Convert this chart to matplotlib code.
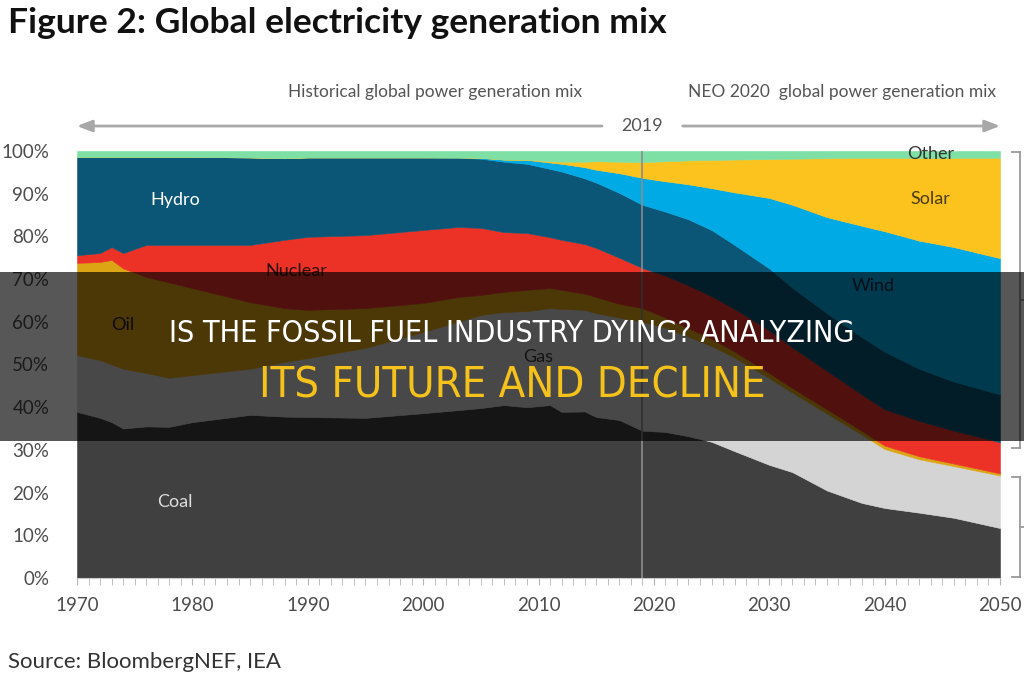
import matplotlib
matplotlib.use("Agg")
import matplotlib.pyplot as plt
from matplotlib import font_manager
from matplotlib.patches import Rectangle
from matplotlib.lines import Line2D
from matplotlib.ticker import MultipleLocator

# share of global power generation, %
years = [1970, 1972, 1973, 1974, 1976, 1978, 1980, 1985, 1988, 1990, 1995, 2000,
         2003, 2005, 2007, 2009, 2011, 2012, 2014, 2015, 2017, 2019, 2021, 2023,
         2025, 2027, 2030, 2032, 2035, 2038, 2040, 2043, 2046, 2050]
coal = [38.9, 37.5, 36.5, 35.0, 35.5, 35.4, 36.5, 38.2, 37.8, 37.7, 37.5, 38.6,
        39.3, 39.8, 40.5, 40.0, 40.5, 38.9, 39.0, 37.7, 37.0, 34.5, 34.2, 33.2,
        31.9, 29.7, 26.5, 24.8, 20.5, 17.6, 16.4, 15.3, 14.1, 11.7]
gas = [13.3, 13.5, 13.5, 14.0, 12.5, 11.5, 11.0, 10.8, 12.8, 13.8, 16.4, 19.0,
       20.7, 21.8, 21.8, 22.5, 22.7, 24.1, 23.8, 24.3, 24.0, 25.5, 24.4, 23.3,
       22.4, 21.9, 20.3, 18.6, 18.0, 16.0, 13.8, 12.5, 12.1, 12.3]
oil = [21.6, 23.0, 24.5, 23.5, 22.5, 22.3, 20.4, 15.6, 12.6, 11.3, 9.3, 6.8,
       5.8, 4.7, 4.7, 5.0, 4.7, 4.5, 3.8, 3.8, 3.2, 3.2, 2.4, 2.0,
       1.7, 1.4, 1.2, 1.1, 1.0, 0.9, 0.8, 0.7, 0.6, 0.5]
nuclear = [1.8, 2.1, 3.0, 3.6, 7.5, 8.8, 10.1, 13.4, 16.0, 17.1, 17.1, 17.1,
           16.4, 15.7, 14.0, 13.3, 11.9, 11.7, 11.6, 11.5, 10.8, 9.4, 9.8, 10.0,
           10.0, 10.0, 10.0, 9.5, 9.0, 8.5, 8.5, 8.3, 7.7, 7.3]
hydro = [23.0, 22.5, 21.1, 22.5, 20.6, 20.6, 20.6, 20.5, 19.1, 18.6, 18.2, 17.0,
         16.2, 16.2, 16.5, 16.2, 16.0, 16.0, 15.4, 15.3, 15.2, 14.8, 15.0, 15.5,
         15.5, 15.0, 14.5, 14.0, 13.5, 13.5, 13.5, 12.2, 11.5, 11.2]
wind = [0, 0, 0, 0, 0, 0, 0, 0, 0, 0, 0, 0,
        0.1, 0.2, 0.5, 0.9, 1.5, 1.8, 2.6, 3.0, 4.6, 6.3, 7.1, 8.2,
        9.8, 12.3, 16.5, 19.4, 22.5, 26.0, 28.2, 30.0, 31.5, 31.9]
solar = [0, 0, 0, 0, 0, 0, 0, 0, 0, 0, 0, 0,
         0, 0, 0, 0.1, 0.3, 0.5, 1.3, 2.0, 2.7, 3.7, 4.7, 5.6,
         6.6, 7.7, 9.1, 10.8, 13.8, 15.9, 17.2, 19.4, 20.9, 23.5]
other = [1.4, 1.4, 1.4, 1.4, 1.4, 1.4, 1.4, 1.5, 1.7, 1.5, 1.5, 1.5,
         1.5, 1.6, 2.0, 2.0, 2.4, 2.5, 2.5, 2.4, 2.5, 2.6, 2.4, 2.2,
         2.1, 2.0, 1.9, 1.8, 1.7, 1.6, 1.6, 1.6, 1.6, 1.6]

colors = ['#404040', '#d4d4d4', '#dba514', '#ec3127', '#0b5676',
          '#00aae4', '#fcc31e', '#7ee0a4']

plt.rcParams['font.family'] = ['Lato', 'DejaVu Sans']

fig = plt.figure(figsize=(10.24, 6.8), dpi=100)
ax = fig.add_axes([77 / 1024, 1 - 578 / 680, 923 / 1024, 427 / 680])

ax.stackplot(years, coal, gas, oil, nuclear, hydro, wind, solar, other,
             colors=colors, edgecolor='face', linewidth=0.4)
ax.axvline(2019, color='#8c8c8c', lw=1.2)

ax.set_xlim(1970, 2050)
ax.set_ylim(0, 100)
ax.set_yticks(range(0, 101, 10))
ax.set_yticklabels([f'{v}%' for v in range(0, 101, 10)])
ax.set_xticks(range(1970, 2051, 10))
ax.xaxis.set_minor_locator(MultipleLocator(1))
ax.tick_params(axis='y', length=0, pad=20, labelsize=13.5, labelcolor='#4d4d4d')
ax.tick_params(axis='x', which='both', length=5, color='#b5b5b5', direction='out',
               pad=9, labelsize=13.5, labelcolor='#4d4d4d')
for s in ['top', 'left', 'right']:
    ax.spines[s].set_visible(False)
ax.spines['bottom'].set_color('#c8c8c8')

# area labels
ax.text(1978.5, 88.5, 'Hydro', color='white', fontsize=13, ha='center', va='center')
ax.text(1989, 71.8, 'Nuclear', color='#2a1008', fontsize=13, ha='center', va='center')
ax.text(1974, 59.2, 'Oil', color='#2a2008', fontsize=13, ha='center', va='center')
ax.text(2010, 51.8, 'Gas', color='#3a3a3a', fontsize=13, ha='center', va='center')
ax.text(1978.5, 17.8, 'Coal', color='#dddddd', fontsize=13, ha='center', va='center')
ax.text(2039, 68.5, 'Wind', color='#0a2c40', fontsize=13, ha='center', va='center')
ax.text(2044, 88.8, 'Solar', color='#4a3a10', fontsize=13, ha='center', va='center')
ax.text(2044, 99.2, 'Other', color='#333333', fontsize=13, ha='center', va='center')

# headers and the 2019 arrows
ax.text(2001, 1.138, 'Historical global power generation mix', transform=ax.get_xaxis_transform(),
        ha='center', va='center', fontsize=12.5, color='#555555')
ax.text(2036.3, 1.138, 'NEO 2020  global power generation mix', transform=ax.get_xaxis_transform(),
        ha='center', va='center', fontsize=12.5, color='#555555')
ax.text(2019, 1.0585, '2019', transform=ax.get_xaxis_transform(),
        ha='center', va='center', fontsize=13, color='#555555')
arrow = dict(arrowstyle='-|>,head_length=0.9,head_width=0.35', color='#a8a8a8', lw=2,
             shrinkA=0, shrinkB=0)
ax.annotate('', xy=(1970, 1.0585), xytext=(2015.5, 1.0585),
            xycoords=ax.get_xaxis_transform(), arrowprops=arrow, annotation_clip=False)
ax.annotate('', xy=(2050, 1.0585), xytext=(2022.5, 1.0585),
            xycoords=ax.get_xaxis_transform(), arrowprops=arrow, annotation_clip=False)

# right-hand brackets
def bracket(y0, y1):
    ys = [1 - y0 / 680, 1 - y1 / 680]
    xa, xb = 1012 / 1024, 1020 / 1024
    mid = (ys[0] + ys[1]) / 2
    for xs, yy in [([xa, xb], [ys[0], ys[0]]), ([xb, xb], ys), ([xa, xb], [ys[1], ys[1]]),
                   ([xb, 1.0], [mid, mid])]:
        fig.add_artist(Line2D(xs, yy, color='#9a9a9a', lw=1.3, transform=fig.transFigure))

bracket(152, 448)
bracket(477, 577)

fig.text(8 / 1024, 1 - 33 / 680, 'Figure 2: Global electricity generation mix',
         fontsize=25.5, fontweight='bold', color='#111111', va='baseline')
fig.text(8 / 1024, 1 - 668 / 680, 'Source: BloombergNEF, IEA',
         fontsize=16, color='#333333', va='baseline')

# dark banner with headline
fig.add_artist(Rectangle((0, 1 - 441 / 680), 1, 169 / 680, transform=fig.transFigure,
                         facecolor='black', alpha=0.66, edgecolor='none', zorder=10))

# pick a narrow face if one is installed, else Roboto
narrow = None
for f in font_manager.fontManager.ttflist:
    n = f.name.lower()
    if ('narrow' in n or 'condensed' in n or f.stretch in ('condensed', 'semi-condensed')) \
            and f.weight in (400, 'normal', 'regular') and f.style == 'normal':
        narrow = font_manager.FontProperties(fname=f.fname)
        break
if narrow is None:
    narrow = font_manager.FontProperties(family='Roboto')

renderer = fig.canvas.get_renderer()
for text, y, size, col, width in [
        ('IS THE FOSSIL FUEL INDUSTRY DYING? ANALYZING', 334, 31, 'white', 690),
        ('ITS FUTURE AND DECLINE', 385, 34, '#f5c21b', 505)]:
    fp = narrow.copy()
    fp.set_size(size)
    t = fig.text(0.5, 1 - y / 680, text, fontproperties=fp, color=col,
                 ha='center', va='center', zorder=11)
    for _ in range(2):
        w = t.get_window_extent(renderer).width
        fp.set_size(fp.get_size() * width / w)
        t.set_fontproperties(fp)

fig.savefig('out.png', dpi=100)
